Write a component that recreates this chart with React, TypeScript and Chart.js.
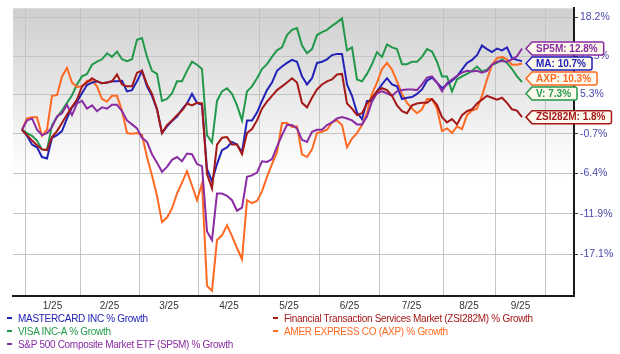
import React, { useEffect, useRef } from "react";
import { Chart, registerables } from "chart.js";

Chart.register(...registerables);

// x = trading-step index (0..100); month boundaries and labels in the same units
const MONTH_LABELS = ["1/25", "2/25", "3/25", "4/25", "5/25", "6/25", "7/25", "8/25", "9/25"];
const MONTH_STARTS = [0.6, 11.6, 23.4, 35.4, 47.4, 59.4, 71.6, 84.2, 94.6, 104.8];
const Y_TICKS = [18.2, 11.5, 5.3, -0.7, -6.4, -11.9, -17.1];
const X_MIN = -1.8;
const X_MAX = 110.4;
const Y_MIN = -22.1;
const Y_MAX = 19.8;

const MA = [
  -0.1, -1.0, -2.3, -2.7, -4.1, -4.3, -1.3, -0.9, -0.3, 1.6, 3.3, 4.2, 5.5, 6.8, 7.2, 7.4, 7.1, 7.2, 7.4, 7.4,
  7.5, 5.8, 6.0, 7.4, 9.1, 6.6, 5.1, 3.0, -0.6, 0.4, 1.2, 1.9, 3.0, 3.9, 5.4, 4.0, 3.7, -5.8, -7.5, -5.1,
  -3.1, -2.7, -1.9, -2.3, -3.4, 1.3, 1.3, 2.5, 4.3, 6.0, 7.2, 9.1, 9.8, 10.4, 10.9, 10.6, 8.2, 6.9, 7.9, 10.4,
  10.6, 11.0, 11.7, 11.9, 11.9, 6.9, 5.1, 2.5, 1.5, 4.3, 4.3, 5.8, 6.9, 7.9, 6.9, 6.6, 4.6, 4.8, 4.9, 5.4,
  6.1, 7.5, 8.0, 7.2, 6.3, 6.9, 7.5, 8.2, 9.3, 10.4, 10.9, 11.7, 13.3, 12.7, 12.2, 12.8, 12.5, 13.0, 11.2, 10.9,
  10.7,
];
const ZSI282M = [
  -0.1, -0.9, -1.7, -2.4, -3.0, -3.1, -1.2, -0.3, 0.9, 2.2, 3.4, 4.5, 6.6, 7.2, 7.9, 7.4, 7.1, 7.2, 7.4, 8.5,
  6.9, 6.6, 6.6, 8.8, 9.1, 6.9, 5.4, 3.0, -0.6, 0.6, 1.3, 2.1, 2.8, 3.9, 3.6, 4.0, 3.9, -6.5, -8.5, -2.3,
  -1.3, -1.2, -2.3, -2.3, -3.7, -0.6, 0.0, 1.3, 3.1, 4.2, 5.1, 6.0, 6.6, 7.2, 7.9, 7.2, 4.0, 3.3, 4.8, 6.1,
  6.9, 7.4, 7.7, 8.5, 8.6, 3.9, 3.1, 2.1, 2.4, 3.9, 4.8, 5.8, 6.3, 6.0, 5.1, 3.6, 2.7, 2.4, 3.6, 3.9,
  4.0, 4.0, 4.6, 3.7, 1.8, 1.0, 1.5, 0.7, 2.1, 2.7, 3.0, 3.9, 4.5, 5.1, 4.8, 4.5, 4.8, 4.0, 3.0, 2.8,
  1.8,
];
const V = [
  -0.1, -0.6, -1.0, -1.7, -3.0, -3.1, 0.6, 1.8, 2.8, 4.0, 5.2, 6.9, 8.2, 8.6, 10.1, 10.6, 11.0, 12.0, 11.4, 12.3,
  11.0, 10.7, 11.0, 14.3, 14.6, 11.4, 9.1, 8.6, 4.3, 4.6, 5.5, 7.4, 7.4, 9.1, 10.6, 10.1, 9.4, -0.9, -2.0, 4.3,
  5.8, 6.3, 5.4, 3.6, 1.3, 5.8, 6.6, 7.9, 9.4, 10.2, 11.4, 12.5, 13.0, 15.1, 16.0, 16.3, 13.3, 12.0, 12.7, 15.1,
  15.6, 16.0, 16.7, 17.3, 18.0, 12.5, 13.0, 7.7, 7.4, 8.6, 10.2, 12.2, 11.4, 13.5, 13.0, 12.7, 10.2, 10.2, 10.6, 10.6,
  11.4, 12.7, 12.3, 10.6, 8.2, 8.2, 5.8, 7.7, 8.2, 8.6, 9.1, 9.8, 9.0, 9.3, 10.1, 10.4, 11.0, 10.4, 9.4, 8.2,
  7.3,
];
const AXP = [
  -0.1, 1.6, 1.8, 1.8, -1.0, -0.1, 5.1, 5.2, 8.2, 9.6, 7.2, 6.5, 6.6, 7.5, 7.5, 6.6, 4.6, 4.2, 5.1, 5.1,
  2.8, -0.6, -0.7, -0.6, -0.9, -4.1, -6.7, -9.5, -13.0, -12.4, -11.2, -9.2, -7.7, -6.1, -8.1, -10.1, -7.8, -20.9, -21.5, -15.3,
  -14.7, -13.4, -14.8, -16.3, -17.7, -10.1, -10.5, -10.2, -8.9, -6.9, -5.1, -3.4, 0.9, 0.9, 0.3, 0.4, -3.7, -4.1, -3.0, -0.6,
  -0.4, -0.1, 1.0, 1.3, 0.6, -2.7, -1.4, -0.6, 0.6, 2.5, 5.4, 7.2, 9.4, 10.4, 9.3, 7.4, 5.4, 4.0, 3.1, 2.4,
  3.0, 4.6, 4.6, 3.1, -0.3, 0.1, -0.6, 0.4, 0.0, 2.1, 2.8, 3.1, 5.1, 7.7, 10.1, 11.2, 11.4, 11.0, 10.1, 10.1,
  10.3,
];
const SP5M = [
  -0.1, 1.3, 1.6, -0.1, -0.9, -0.6, 0.3, 1.9, 2.4, 3.7, 2.1, 3.9, 4.3, 3.1, 3.6, 2.7, 3.3, 3.1, 3.7, 3.7,
  2.7, 1.3, 0.7, 0.1, -1.3, -1.9, -3.7, -4.9, -6.2, -5.5, -4.5, -4.1, -4.7, -3.6, -3.7, -5.1, -5.4, -14.2, -15.3, -9.2,
  -9.2, -9.5, -10.1, -11.5, -11.1, -6.9, -6.7, -6.3, -4.7, -4.8, -4.4, -2.6, -0.9, 0.6, 0.6, 0.1, -1.6, -1.9, -0.4, -0.1,
  -0.1, 0.6, 1.0, 1.6, 1.8, 1.6, 1.3, 0.7, 0.7, 1.9, 4.2, 5.5, 5.8, 5.5, 5.1, 5.8, 6.0, 6.1, 6.1, 6.0,
  6.9, 8.0, 8.2, 7.2, 5.8, 7.1, 7.7, 8.3, 8.8, 9.1, 9.0, 9.1, 8.8, 9.1, 10.1, 10.6, 10.7, 10.6, 11.0, 11.5,
  12.8,
];

const SERIES = [
  { key: "MA", name: "MASTERCARD INC % Growth", values: MA, color: "#2222b8", order: 3 },
  { key: "ZSI282M", name: "Financial Transaction Services Market (ZSI282M) % Growth", values: ZSI282M, color: "#a51818", order: 1 },
  { key: "V", name: "VISA INC-A % Growth", values: V, color: "#22994a", order: 5 },
  { key: "AXP", name: "AMER EXPRESS CO (AXP) % Growth", values: AXP, color: "#ff6a22", order: 4 },
  { key: "SP5M", name: "S&P 500 Composite Market ETF (SP5M) % Growth", values: SP5M, color: "#8a2ca3", order: 2 },
];

const FONT = "'Liberation Sans', Arial, sans-serif";

const bgPlugin = {
  id: "bgGradient",
  beforeDraw(chart: any) {
    const { ctx, chartArea } = chart;
    if (!chartArea) return;
    const g = ctx.createLinearGradient(0, chartArea.top, 0, chartArea.bottom);
    g.addColorStop(0, "#cfcfcf");
    g.addColorStop(0.3, "#e8e8e8");
    g.addColorStop(0.55, "#fdfdfd");
    g.addColorStop(0.6, "#ffffff");
    g.addColorStop(1, "#ffffff");
    ctx.save();
    ctx.fillStyle = g;
    ctx.fillRect(chartArea.left, chartArea.top, chartArea.right - chartArea.left, chartArea.bottom - chartArea.top);
    ctx.restore();
  },
};

const valueLabelPlugin = {
  id: "valueLabels",
  afterDraw(chart: any) {
    const { ctx } = chart;
    const xs = chart.scales.x;
    const ys = chart.scales.y;
    const items = SERIES.map((s) => {
      const last = s.values[s.values.length - 1];
      return {
        s,
        last,
        x: xs.getPixelForValue(s.values.length - 1),
        y: ys.getPixelForValue(100 + last),
      };
    }).sort((a, b) => a.y - b.y);
    let prev = -Infinity;
    const H = 13;
    const GAP = 15;
    items.forEach((it) => {
      const y = Math.max(it.y, prev + GAP);
      prev = y;
      const text = `${it.s.key}: ${it.last.toFixed(1)}%`;
      ctx.save();
      ctx.font = `bold 10px ${FONT}`;
      const tw = ctx.measureText(text).width;
      const x0 = it.x + 4;
      const x1 = x0 + 6 + tw + 10;
      const top = y - H / 2;
      const bot = y + H / 2;
      const r = 2;
      ctx.beginPath();
      ctx.moveTo(x0, y);
      ctx.lineTo(x0 + 6, top);
      ctx.lineTo(x1 - r, top);
      ctx.quadraticCurveTo(x1, top, x1, top + r);
      ctx.lineTo(x1, bot - r);
      ctx.quadraticCurveTo(x1, bot, x1 - r, bot);
      ctx.lineTo(x0 + 6, bot);
      ctx.closePath();
      ctx.fillStyle = "#fdf9ec";
      ctx.fill();
      ctx.lineWidth = 1.5;
      ctx.strokeStyle = it.s.color;
      ctx.stroke();
      ctx.fillStyle = it.s.color;
      ctx.textBaseline = "middle";
      ctx.textAlign = "left";
      ctx.fillText(text, x0 + 10, y + 0.5);
      ctx.restore();
    });
  },
};

export default function App() {
  const canvasRef = useRef<HTMLCanvasElement | null>(null);

  useEffect(() => {
    const canvas = canvasRef.current;
    if (!canvas) return;
    const mids = MONTH_LABELS.map((_, i) => (MONTH_STARTS[i] + MONTH_STARTS[i + 1]) / 2);
    const xTickValues = [...MONTH_STARTS, ...mids].sort((a, b) => a - b);

    const chart = new Chart(canvas, {
      type: "line",
      data: {
        datasets: SERIES.map((s) => ({
          label: s.name,
          data: s.values.map((v, i) => ({ x: i, y: 100 + v })),
          borderColor: s.color,
          backgroundColor: s.color,
          borderWidth: 2,
          pointRadius: 0,
          tension: 0,
          fill: false,
          order: s.order,
        })),
      },
      options: {
        animation: false,
        responsive: true,
        maintainAspectRatio: false,
        layout: { padding: { left: 13, top: 0, right: 0, bottom: 0 } },
        plugins: {
          legend: { display: false },
          tooltip: { enabled: false },
        },
        scales: {
          x: {
            type: "linear",
            min: X_MIN,
            max: X_MAX,
            afterBuildTicks(axis: any) {
              axis.ticks = xTickValues.map((v) => ({ value: v }));
            },
            afterFit(axis: any) {
              axis.height = 58;
            },
            grid: {
              color: (c: any) => (c.index % 2 === 0 ? "#c4c4c4" : "rgba(0,0,0,0)"),
              borderDash: [2, 2],
              lineWidth: 1,
              drawTicks: false,
            },
            border: { display: true, color: "#1a1a1a", width: 2 },
            ticks: {
              autoSkip: false,
              maxRotation: 0,
              padding: 4,
              color: "#333333",
              font: { family: FONT, size: 10 },
              callback: (_v: any, i: number) => (i % 2 === 1 ? MONTH_LABELS[(i - 1) / 2] : ""),
            },
          },
          y: {
            type: "logarithmic",
            position: "right",
            min: 100 + Y_MIN,
            max: 100 + Y_MAX,
            afterBuildTicks(axis: any) {
              axis.ticks = Y_TICKS.map((v) => ({ value: 100 + v }));
            },
            afterFit(axis: any) {
              axis.width = 46;
            },
            grid: {
              color: "#c4c4c4",
              borderDash: [2, 2],
              lineWidth: 1,
              drawTicks: true,
              tickLength: 4,
              tickColor: "#333333",
              tickBorderDash: [],
              tickWidth: 1,
            },
            border: { display: true, color: "#1a1a1a", width: 2 },
            ticks: {
              padding: 2,
              color: "#4848a8",
              font: { family: FONT, size: 10.5 },
              callback: (v: any) => `${(Number(v) - 100).toFixed(1)}%`,
            },
          },
        },
      },
      plugins: [bgPlugin, valueLabelPlugin],
    } as any);

    return () => chart.destroy();
  }, []);

  const legendPos = [
    { left: 7, top: 318 },
    { left: 273, top: 318 },
    { left: 7, top: 331 },
    { left: 273, top: 331 },
    { left: 7, top: 344 },
  ];

  return (
    <div style={{ position: "fixed", left: 0, top: 0, width: 620, height: 354, background: "#ffffff", overflow: "hidden" }}>
      <canvas ref={canvasRef} style={{ position: "absolute", left: 0, top: 0, width: 620, height: 354 }} />
      {SERIES.map((s, i) => (
        <div
          key={s.key}
          style={{
            position: "absolute",
            left: legendPos[i].left,
            top: legendPos[i].top - 7,
            height: 14,
            display: "flex",
            alignItems: "center",
            whiteSpace: "nowrap",
            fontFamily: FONT,
            fontSize: 10,
            letterSpacing: -0.3,
            color: s.color,
          }}
        >
          <span style={{ display: "inline-block", width: 5, height: 2, background: s.color, marginRight: 6 }} />
          <span>{s.name}</span>
        </div>
      ))}
    </div>
  );
}
